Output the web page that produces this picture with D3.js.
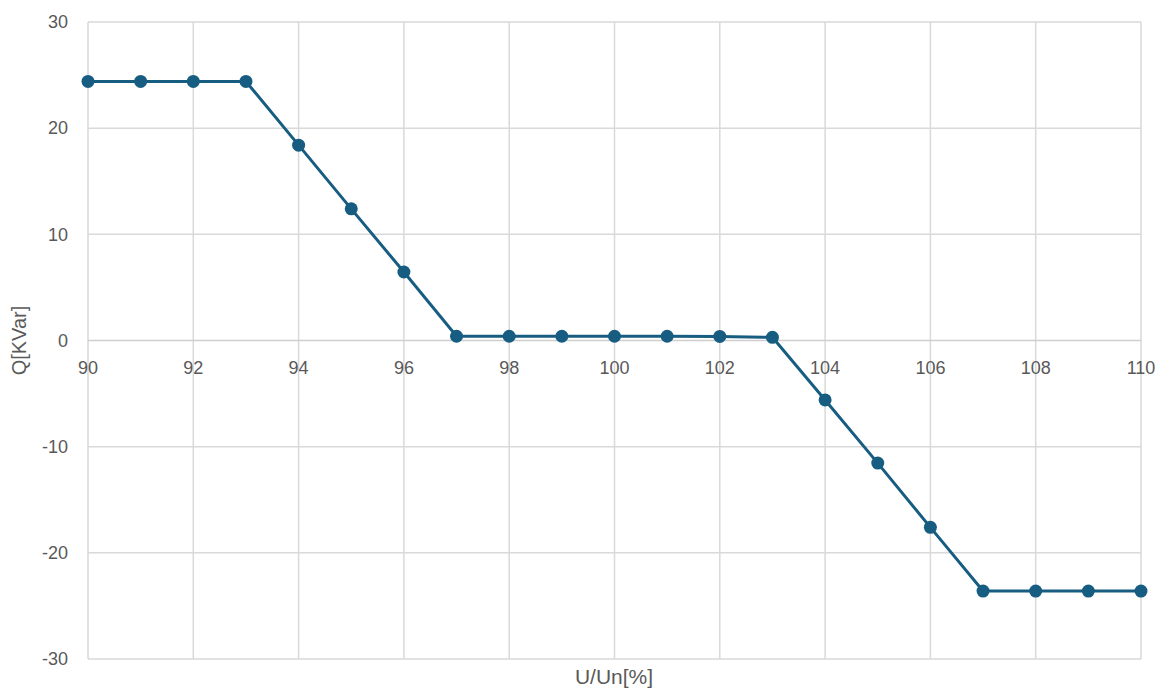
<!DOCTYPE html>
<html><head><meta charset="utf-8">
<script src="https://cdn.jsdelivr.net/npm/d3@7"></script>
<style>body{margin:0;background:#fff;} text{font-family:"Liberation Sans",Arial,sans-serif;}</style>
</head><body><svg id="c" width="1167" height="695"></svg>
<script>
const xValues = [90,91,92,93,94,95,96,97,98,99,100,101,102,103,104,105,106,107,108,109,110];
const qValues = [24.4,24.4,24.4,24.4,18.4,12.4,6.45,0.4,0.4,0.4,0.4,0.4,0.38,0.3,-5.6,-11.55,-17.6,-23.6,-23.6,-23.6,-23.6];
const xTicks = [90,92,94,96,98,100,102,104,106,108,110];
const yTicks = [-30,-20,-10,0,10,20,30];
const xTitle = "U/Un[%]";
const yTitle = "Q[KVar]";

const svg = d3.select("#c");
const L=88,R=1141,T=22,B=659;
const x = d3.scaleLinear().domain([90,110]).range([L,R]);
const y = d3.scaleLinear().domain([-30,30]).range([B,T]);
const grid="#d9d9d9", txt="#595959", col="#175d81";

const g = svg.append("g");
g.selectAll(".vg").data(xTicks).join("line")
 .attr("x1",d=>x(d)).attr("x2",d=>x(d)).attr("y1",T).attr("y2",B)
 .attr("stroke",grid).attr("stroke-width",1.5);
g.selectAll(".hg").data(yTicks).join("line")
 .attr("x1",L).attr("x2",R).attr("y1",d=>y(d)).attr("y2",d=>y(d))
 .attr("stroke",d=>d===0?"#cfcfcf":grid).attr("stroke-width",1.5);

g.selectAll(".yl").data(yTicks).join("text")
 .attr("x",68).attr("y",d=>y(d)).attr("dy","0.35em").attr("text-anchor","end")
 .attr("fill",txt).attr("font-size",18).text(d=>d);
g.selectAll(".xl").data(xTicks).join("text")
 .attr("x",d=>x(d)).attr("y",y(0)+27).attr("dy","0.35em").attr("text-anchor","middle")
 .attr("fill",txt).attr("font-size",18).text(d=>d);

svg.append("text").attr("x",614).attr("y",684).attr("text-anchor","middle")
 .attr("fill",txt).attr("font-size",21).text(xTitle);
svg.append("text").attr("transform",`translate(26,${y(0)}) rotate(-90)`).attr("text-anchor","middle")
 .attr("fill",txt).attr("font-size",20).text(yTitle);

const data = xValues.map((v,i)=>[v,qValues[i]]);
svg.append("path").datum(data)
 .attr("d",d3.line().x(d=>x(d[0])).y(d=>y(d[1])))
 .attr("fill","none").attr("stroke",col).attr("stroke-width",3);
svg.selectAll(".pt").data(data).join("circle")
 .attr("cx",d=>x(d[0])).attr("cy",d=>y(d[1])).attr("r",6.5).attr("fill",col);
</script></body></html>
